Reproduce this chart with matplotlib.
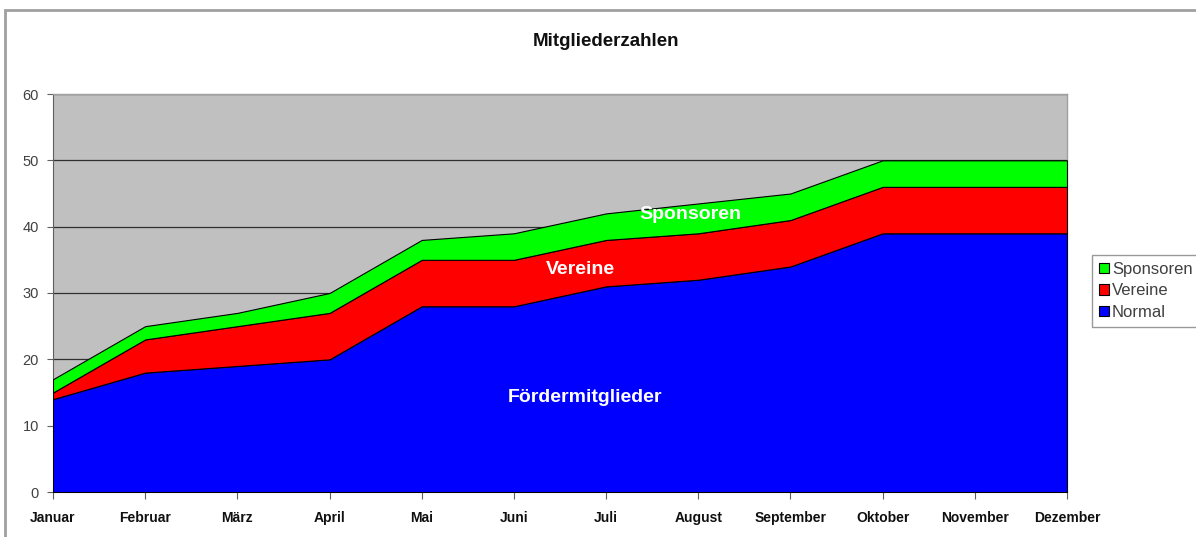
import matplotlib
matplotlib.use("Agg")
import matplotlib.pyplot as plt
from matplotlib.patches import Rectangle
import numpy as np

months = ["Januar", "Februar", "März", "April", "Mai", "Juni", "Juli",
          "August", "September", "Oktober", "November", "Dezember"]
normal = [14, 18, 19, 20, 28, 28, 31, 32, 34, 39, 39, 39]
vereine = [1, 5, 6, 7, 7, 7, 7, 7, 7, 7, 7, 7]
sponsoren = [2, 2, 2, 3, 3, 4, 4, 4.5, 4, 4, 4, 4]
yticks = [0, 10, 20, 30, 40, 50, 60]

plt.rcParams['font.family'] = ['Liberation Sans', 'DejaVu Sans']

W, H = 1196, 537
fig = plt.figure(figsize=(W / 100, H / 100), dpi=100)

# outer chart frame
fig.patches.append(Rectangle((5 / W, -0.05), 1.2, (H - 10) / H + 0.05,
                             transform=fig.transFigure, fill=False,
                             edgecolor="#a0a0a0", linewidth=2))

ax = fig.add_axes([53 / W, 1 - 492 / H, (1067 - 53) / W, (492 - 94) / H])
ax.set_facecolor("#c0c0c0")
x = np.arange(len(months))
ax.stackplot(x, normal, vereine, sponsoren,
             colors=["#0000ff", "#ff0000", "#00ff00"],
             labels=["Normal", "Vereine", "Sponsoren"],
             edgecolor="black", linewidth=0.8, zorder=3)
ax.set_xlim(0, len(months) - 1)
ax.set_ylim(0, 60)
ax.set_yticks(yticks)
ax.set_yticklabels([str(v) for v in yticks], color="#404040", fontsize=10.5)
ax.set_xticks(x)
ax.set_xticklabels(months, fontsize=10, fontweight="bold", color="#101010")
ax.tick_params(axis="x", length=5, pad=9, color="#606060")
ax.tick_params(axis="y", length=4, pad=6, color="#606060")
ax.grid(axis="y", color="#303030", linewidth=0.9, zorder=1)
ax.set_axisbelow(True)
for s in ["top", "right"]:
    ax.spines[s].set_color("#a0a0a0")
    ax.spines[s].set_linewidth(1)
ax.spines["left"].set_color("#606060")
ax.spines["bottom"].set_color("#606060")

for tx, ty, s in [(5.77, 14.2, "Fördermitglieder"),
                  (5.72, 33.6, "Vereine"),
                  (6.91, 41.9, "Sponsoren")]:
    ax.text(tx, ty, s, color="white", fontsize=14, fontweight="bold",
            ha="center", va="center", zorder=5)

fig.text(606 / W, 1 - 42 / H, "Mitgliederzahlen", fontsize=13.5,
         fontweight="bold", ha="center", va="center", color="#101010")

handles, labels = ax.get_legend_handles_labels()
leg = fig.legend(handles[::-1], labels[::-1], loc="upper left",
                 bbox_to_anchor=(1092 / W, 1 - 255 / H),
                 fontsize=12, frameon=True, fancybox=False,
                 edgecolor="#808080", handlelength=0.6, handleheight=0.6,
                 handletextpad=0.2, labelspacing=0.4, borderpad=0.4,
                 borderaxespad=0)
for t in leg.get_texts():
    t.set_color("#404040")
leg.get_frame().set_linewidth(1)

fig.savefig("out.png", dpi=100)
